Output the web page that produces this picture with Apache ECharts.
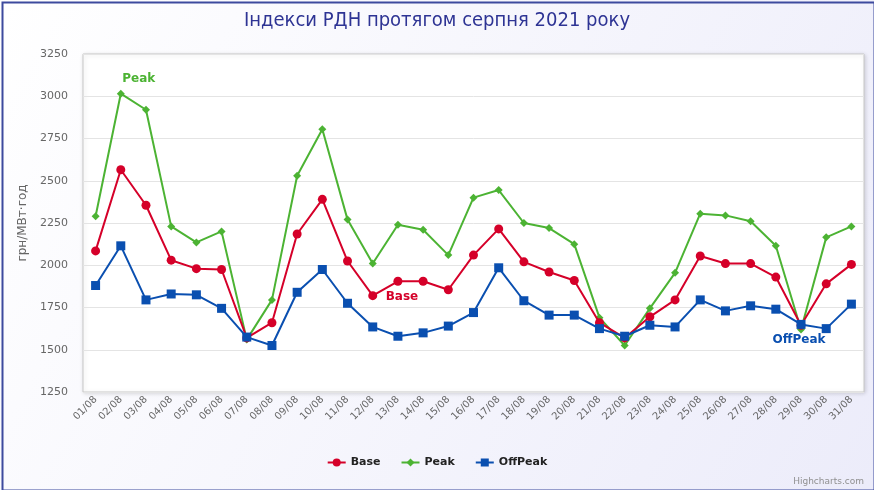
<!DOCTYPE html>
<html><head><meta charset="utf-8">
<script src="https://cdn.jsdelivr.net/npm/echarts@6/dist/echarts.min.js"></script>
<style>html,body{margin:0;padding:0;}#c{width:874px;height:490px;}</style>
</head><body><div id="c"></div>
<script>
const categories = ['01/08','02/08','03/08','04/08','05/08','06/08','07/08','08/08','09/08','10/08','11/08','12/08','13/08','14/08','15/08','16/08','17/08','18/08','19/08','20/08','21/08','22/08','23/08','24/08','25/08','26/08','27/08','28/08','29/08','30/08','31/08'];
const baseValues = [2085,2565,2355,2030,1980,1975,1570,1660,2185,2390,2025,1820,1905,1905,1855,2060,2215,2020,1960,1910,1660,1570,1695,1795,2055,2010,2010,1930,1645,1890,2005];
const peakValues = [2290,3015,2920,2230,2135,2200,1560,1795,2530,2805,2270,2010,2240,2210,2060,2400,2445,2250,2220,2125,1690,1525,1745,1955,2305,2295,2260,2115,1620,2165,2230];
const offPeakValues = [1880,2115,1795,1830,1825,1745,1575,1525,1840,1975,1775,1635,1580,1600,1640,1720,1985,1790,1705,1705,1625,1580,1645,1635,1795,1730,1760,1740,1650,1625,1770];
const yTicks = [1250,1500,1750,2000,2250,2500,2750,3000,3250];
const titleText = 'Індекси РДН протягом серпня 2021 року';
const yAxisName = 'грн/МВт·год';
const seriesNames = ['Base','Peak','OffPeak'];
const labelIndex = {Base: 12, Peak: 1, OffPeak: 28};
const colors = {Base:'#d50029', Peak:'#4cb333', OffPeak:'#0a4fb0'};

function mkData(name, vals, pos, offset) {
  return vals.map((v, i) => i === labelIndex[name]
    ? {value: v, label: {show: true, formatter: name, position: pos, offset: offset,
        color: colors[name], fontWeight: 'bold', fontSize: 12, fontFamily: 'DejaVu Sans'}}
    : v);
}

const chart = echarts.init(document.getElementById('c'), null, {renderer: 'canvas'});
chart.setOption({
  animation: false,
  backgroundColor: new echarts.graphic.LinearGradient(0, 0, 1, 1, [
    {offset: 0, color: '#ffffff'}, {offset: 1, color: '#ececfa'}]),
  title: {text: titleText, left: 'center', top: 6,
    textStyle: {fontFamily: 'DejaVu Sans Condensed', fontWeight: 'normal', fontSize: 20, color: '#2e3494'}},
  graphic: [
    {type: 'rect', left: 0, top: 0, shape: {x: 1, y: 1, width: 872, height: 488},
      style: {fill: 'none', stroke: '#3d4a9e', lineWidth: 2}, z: 100},
    {type: 'text', right: 10, bottom: 4,
      style: {text: 'Highcharts.com', fill: '#909090', font: '9px DejaVu Sans'}}
  ],
  grid: {left: 83, right: 10, top: 54, bottom: 98, show: true, backgroundColor: '#ffffff',
    borderColor: '#c8c8c8', borderWidth: 1, shadowColor: 'rgba(0,0,0,0.15)', shadowBlur: 4, shadowOffsetX: 1, shadowOffsetY: 1},
  legend: {bottom: 17, left: 'center', itemGap: 20, itemWidth: 18, itemHeight: 10,
    data: seriesNames,
    textStyle: {fontFamily: 'DejaVu Sans', fontWeight: 'bold', fontSize: 11, color: '#222'}},
  xAxis: {type: 'category', data: categories, boundaryGap: true,
    axisLine: {show: false}, axisTick: {show: false},
    axisLabel: {rotate: 45, interval: 0, color: '#666', fontSize: 10, fontFamily: 'DejaVu Sans', margin: 6}},
  yAxis: {type: 'value', min: yTicks[0], max: yTicks[yTicks.length - 1], interval: 250,
    name: yAxisName, nameLocation: 'middle', nameRotate: 90, nameGap: 45,
    nameTextStyle: {color: '#666', fontSize: 12, fontFamily: 'DejaVu Sans'},
    axisLine: {show: false}, axisTick: {show: false},
    axisLabel: {color: '#666', fontSize: 11, fontFamily: 'DejaVu Sans', margin: 15,
      formatter: v => String(v)},
    splitLine: {lineStyle: {color: '#e4e4e4', width: 1}}},
  series: [
    {name: 'Base', type: 'line', data: mkData('Base', baseValues, 'bottom', [4, 0]),
      color: colors.Base, symbol: 'circle', symbolSize: 9, lineStyle: {width: 2}, z: 3},
    {name: 'Peak', type: 'line', data: mkData('Peak', peakValues, 'top', [18, 0]),
      color: colors.Peak, symbol: 'diamond', symbolSize: 8, lineStyle: {width: 2}, z: 2},
    {name: 'OffPeak', type: 'line', data: mkData('OffPeak', offPeakValues, 'bottom', [-2, 0]),
      color: colors.OffPeak, symbol: 'rect', symbolSize: 9, lineStyle: {width: 2}, z: 4}
  ]
});
</script></body></html>
